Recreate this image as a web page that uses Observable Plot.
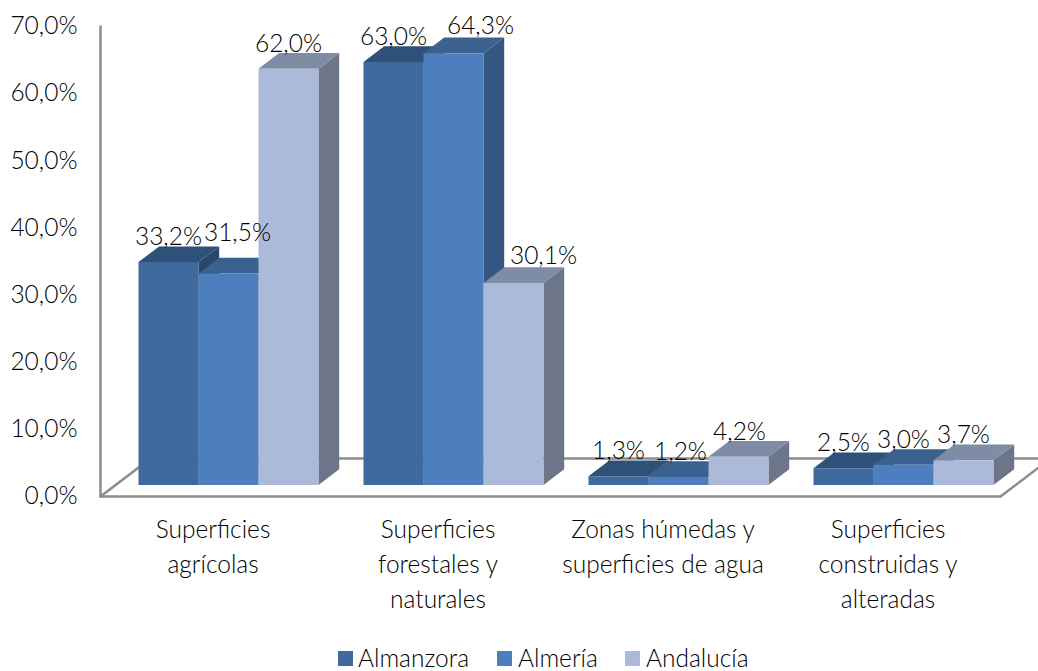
<!DOCTYPE html>
<html><head><meta charset="utf-8">
<script src="https://cdn.jsdelivr.net/npm/d3@7"></script>
<script src="https://cdn.jsdelivr.net/npm/@observablehq/plot@0.6"></script>
<style>
html,body{margin:0;padding:0;background:#fff;overflow:hidden;width:1038px;height:671px}
#legend{height:26px;position:relative;font:300 24.5px Lato,sans-serif;color:#000}
#legend span{position:absolute;top:0;line-height:26px;white-space:nowrap}
#legend i{position:absolute;top:6px;width:15px;height:15px}
svg text{font-weight:300}
</style></head>
<body><div id="chart"></div><div id="legend"></div>
<script>
const categories = ["Superficies\nagrícolas","Superficies\nforestales y\nnaturales","Zonas húmedas y\nsuperficies de agua","Superficies\nconstruidas y\nalteradas"];
const series = ["Almanzora","Almería","Andalucía"];
const almanzora = [33.2,63.0,1.3,2.5];
const almeria = [31.5,64.3,1.2,3.0];
const andalucia = [62.0,30.1,4.2,3.7];
const yTicks = [0,10,20,30,40,50,60,70];
const values = [almanzora,almeria,andalucia];

// Styling
const fronts = ["#3F6A9D","#4D7FBE","#ABBAD8"];
const tops = ["#2F5079","#3B628F","#7F8CA6"];
const sides = ["#2A4669","#335781","#6C7688"];
const axisColor = "#8C8C8C";
const fontSize = 24.5;
const fontFamily = "Lato, sans-serif";
// label nudges in px [series][category]
const nudgeX = [[0,0,0,0],[9,27,2,0],[0,30,1,0]];
const nudgeY = [[0,0,0,0],[-16,-2,0,0],[0,-2,0,0]];

// geometry in scale units
const barW = 0.8/3, depthX = 20.7/225, depthY = 15.7/6.714;
const planeDx = 15.5, planeDy = -11.5;
const floorX = 50/225, floorY = 38/6.714;
const fmt = v => v.toFixed(1).replace(".",",") + "%";

const poly = (pts, fill) => Plot.line(pts.map(([x,y])=>({x,y})), {x:"x",y:"y",fill,stroke:"none",curve:"linear-closed",dx:planeDx,dy:planeDy});

const barMarks = [];
const labelMarks = [];
categories.forEach((_,c)=>{
  series.forEach((s,k)=>{
    const v = values[k][c];
    const x0 = c + 0.1 + k*barW, x1 = x0 + barW;
    barMarks.push(
      poly([[x1,0],[x1+depthX,depthY],[x1+depthX,v+depthY],[x1,v]], sides[k]),
      poly([[x0,v],[x1,v],[x1+depthX,v+depthY],[x0+depthX,v+depthY]], tops[k]),
      poly([[x0,0],[x1,0],[x1,v],[x0,v]], fronts[k])
    );
    labelMarks.push(Plot.text([{x:(x0+x1)/2,y:v,t:fmt(v)}],{x:"x",y:"y",text:"t",
      dx:planeDx+nudgeX[k][c],dy:planeDy-17+nudgeY[k][c],lineAnchor:"bottom",fontSize,fontFamily,fill:"#000"}));
  });
});

const plot = Plot.plot({
  width:1038,height:645,
  marginLeft:100,marginRight:38,marginTop:26,marginBottom:149,
  style:{background:"#fff",fontFamily,overflow:"hidden"},
  x:{type:"linear",domain:[0,4],range:[100,1000],axis:null},
  y:{domain:[0,70],range:[496,26],axis:null},
  marks:[
    Plot.line([{x:floorX,y:floorY},{x:4+floorX,y:floorY}],{x:"x",y:"y",stroke:axisColor,strokeWidth:2.5}),
    Plot.line([{x:0,y:70},{x:0,y:0},{x:4,y:0},{x:4+floorX,y:floorY}],{x:"x",y:"y",stroke:axisColor,strokeWidth:2.5}),
    Plot.line([{x:0,y:0},{x:floorX,y:floorY}],{x:"x",y:"y",stroke:axisColor,strokeWidth:2.5}),
    ...barMarks,
    ...labelMarks,
    Plot.axisY(yTicks,{anchor:"left",tickSize:0,tickPadding:23,label:null,tickFormat:fmt,fontSize,fontFamily,fill:"#000"}),
    Plot.axisX([0.5,1.5,2.5,3.5],{anchor:"bottom",tickSize:0,tickPadding:17,label:null,tickFormat:(d,i)=>categories[i],fontSize,fontFamily,lineHeight:35/fontSize,fill:"#000"})
  ]
});
document.getElementById("chart").appendChild(plot);
plot.style.display="block";
const lg = document.getElementById("legend");
const swatchX=[338,497,625], textX=[358,518,646];
series.forEach((s,k)=>{
  const i=document.createElement("i");i.style.left=swatchX[k]+"px";i.style.background=fronts[k];lg.appendChild(i);
  const t=document.createElement("span");t.style.left=textX[k]+"px";t.textContent=s;lg.appendChild(t);
});
</script></body></html>
